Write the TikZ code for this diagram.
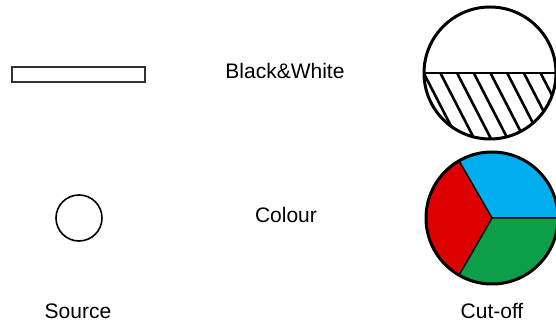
\documentclass[tikz,border=0pt]{standalone}
\usepackage{fontspec}
\setmainfont{Liberation Sans}
\usetikzlibrary{calc}
\definecolor{pieblue}{RGB}{0,174,239}
\definecolor{piered}{RGB}{221,0,0}
\definecolor{piegreen}{RGB}{12,158,72}
\definecolor{rectgray}{RGB}{50,50,50}
\begin{document}
\begin{tikzpicture}[x=1pt,y=1pt,
  lbl/.style={anchor=base,inner sep=0pt,font=\fontsize{21}{24}\selectfont},
  outline/.style={draw=black,line width=3pt},
  hatchline/.style={draw=black,line width=2.6pt}]
\useasboundingbox (0,0) rectangle (556,331);
% source shapes
\draw[rectgray,line width=1.8pt] (12,249) rectangle (145,264);
\draw[black,line width=1.6pt] (79,113) circle[radius=23];
% labels
\node[lbl] (bw) at (285,252.5) {Black\&White};
\node[lbl] (col) at (286,108) {Colour};
\node[lbl] (src) at (78,12.5) {Source};
\node[lbl] (cut) at (492,12.5) {Cut-off};
% black & white cut-off
\coordinate (T) at (490,258);
\begin{scope}
  \clip (T) circle[radius=66];
  \clip (415,258) rectangle (560,185);
  \foreach \k in {-2,...,8}{
    \draw[hatchline] ($(438.3,262)+(16.7*\k,0)$) -- ++(45,-87.3);
  }
\end{scope}
\draw[black,line width=2pt] ($(T)+(-66,0)$) -- ($(T)+(66,0)$);
\draw[outline] (T) circle[radius=66];
% colour cut-off
\coordinate (C) at (492,113);
\fill[pieblue] (C) -- ++(0:66) arc[start angle=0,end angle=120,radius=66] -- cycle;
\fill[piered] (C) -- ++(120:66) arc[start angle=120,end angle=240,radius=66] -- cycle;
\fill[piegreen] (C) -- ++(240:66) arc[start angle=240,end angle=360,radius=66] -- cycle;
\draw[black,line width=1.5pt] (C) -- ++(0:66) (C) -- ++(120:66) (C) -- ++(240:66);
\draw[outline] (C) circle[radius=66];
\end{tikzpicture}
\end{document}
